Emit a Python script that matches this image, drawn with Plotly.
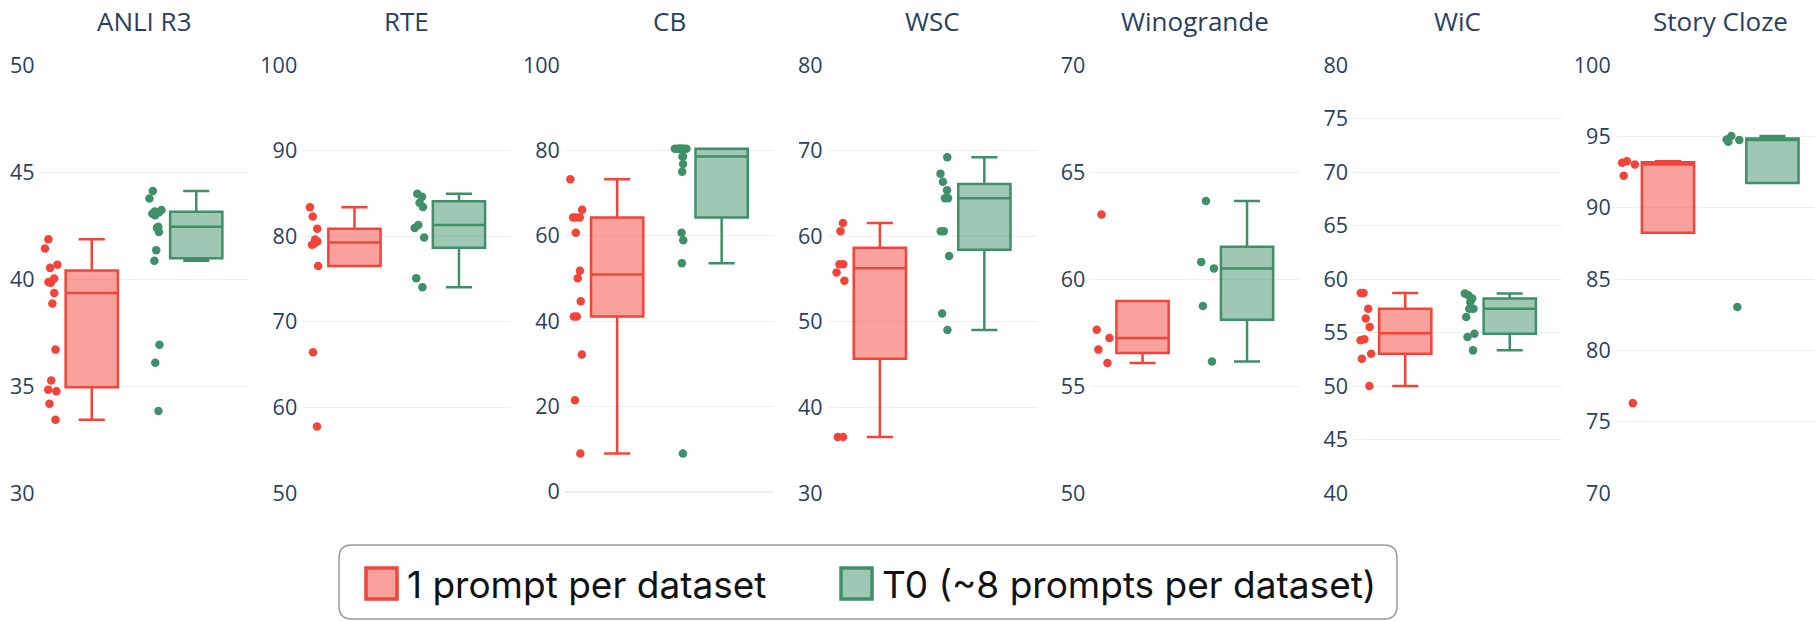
import plotly.graph_objects as go

# ---- data: per-prompt accuracy (%) for each held-out dataset ----
datasets = ["ANLI R3", "RTE", "CB", "WSC", "Winogrande", "WiC", "Story Cloze"]
series_names = ["1 prompt per dataset", "T0 (~8 prompts per dataset)"]

anli_r3_one = [41.86, 41.42, 40.67, 40.52, 40.02, 39.86, 39.82, 39.35, 38.85,
               36.70, 35.26, 34.83, 34.75, 34.17, 33.42]
anli_r3_t0 = [44.11, 43.76, 43.22, 43.15, 43.12, 43.05, 42.98, 42.44, 42.40,
              42.20, 41.34, 40.85, 36.93, 36.09, 33.83]

rte_one = [83.39, 82.31, 80.87, 79.61, 79.38, 79.14, 79.00, 76.53, 66.43, 57.76]
rte_t0 = [84.95, 84.60, 83.90, 83.40, 81.30, 80.95, 79.85, 75.10, 74.05]

cb_one = [73.21, 66.07, 64.29, 64.29, 64.29, 60.71, 51.79, 50.00, 44.64,
          41.07, 41.07, 32.14, 21.43, 8.93]
cb_t0 = [80.36, 80.36, 80.36, 80.36, 80.36, 80.36, 80.36, 78.57, 78.57,
         76.79, 75.00, 60.71, 58.93, 53.57, 8.93]

wsc_one = [61.54, 60.58, 56.73, 56.73, 55.77, 54.81, 36.54, 36.54]
wsc_t0 = [69.23, 67.31, 66.35, 65.38, 64.42, 64.42, 60.58, 60.58, 57.69,
          50.96, 49.04]

winogrande_one = [63.01, 57.63, 57.24, 56.70, 56.07]
winogrande_t0 = [63.64, 60.80, 60.49, 58.74, 56.15]

wic_one = [58.70, 58.70, 57.23, 56.30, 55.52, 54.36, 54.27, 53.02, 52.55, 50.00]
wic_t0 = [58.64, 58.48, 58.17, 57.86, 57.23, 57.23, 56.45, 54.89, 54.58, 53.33]

story_cloze_one = [93.26, 93.15, 93.03, 92.23, 76.30]
story_cloze_t0 = [95.02, 94.78, 94.74, 94.62, 83.04]

one_prompt_scores = [anli_r3_one, rte_one, cb_one, wsc_one,
                     winogrande_one, wic_one, story_cloze_one]
t0_scores = [anli_r3_t0, rte_t0, cb_t0, wsc_t0,
             winogrande_t0, wic_t0, story_cloze_t0]

# ---- axis settings ----
y_ranges = [[30, 50], [50, 100], [-0.3, 100], [30, 80], [50, 70], [40, 80], [70, 100]]
y_dticks = [5, 10, 20, 10, 5, 5, 5]

colors = ["#F3443A", "#3F9069"]
fills = ["rgba(243,68,58,0.5)", "rgba(63,144,105,0.5)"]

W, H = 1815, 621
M_T, M_B = 65, 128
PLOT_H = H - M_T - M_B

PANEL_X0 = 39.5      # left edge of first panel (px)
PANEL_STEP = 262.7   # distance between panel starts (px)
PANEL_W = 209        # panel width (px)

FONT = "Open Sans"
TEXT_COLOR = "#2a3f5f"


def fx(px):
    return px / W


def fy(py):
    return (H - M_B - py) / PLOT_H


fig = go.Figure()
layout = {}
annotations = []

for i, name in enumerate(datasets):
    suffix = "" if i == 0 else str(i + 1)
    x0 = PANEL_X0 + PANEL_STEP * i
    x1 = min(x0 + PANEL_W, W)
    span = 2.0 * (x1 - x0) / PANEL_W

    layout["xaxis" + suffix] = dict(
        domain=[fx(x0), fx(x1)], range=[-0.5, -0.5 + span],
        anchor="y" + suffix, showticklabels=False, showgrid=False,
        zeroline=False, showline=False, fixedrange=True,
    )
    layout["yaxis" + suffix] = dict(
        domain=[0, 1], range=y_ranges[i], dtick=y_dticks[i], tick0=0,
        anchor="x" + suffix, showgrid=True, gridcolor="#EBF0F8", gridwidth=1,
        zeroline=True, zerolinecolor="#EBF0F8", zerolinewidth=2,
        ticks="", showline=False, ticklabelstandoff=4,
        tickfont=dict(family=FONT, size=21.5, color=TEXT_COLOR),
    )

    for k, scores in enumerate([one_prompt_scores[i], t0_scores[i]]):
        fig.add_trace(go.Box(
            y=scores, x0=k, name=series_names[k],
            boxpoints="all", jitter=0.3, pointpos=-1.5, width=0.5,
            marker=dict(color=colors[k], size=8.5),
            line=dict(color=colors[k], width=2.5),
            fillcolor=fills[k],
            xaxis="x" + suffix, yaxis="y" + suffix,
            showlegend=False, hoverinfo="y",
        ))

    annotations.append(dict(
        text=name, x=fx(x0 + PANEL_W / 2), y=1, xref="paper", yref="paper",
        xanchor="center", yanchor="bottom", yshift=24, showarrow=False,
        font=dict(family=FONT, size=26, color=TEXT_COLOR),
    ))

# ---- legend drawn as a framed strip below the panels ----
def rounded_rect(x0, y0, x1, y1, r):
    rx0, rx1 = fx(x0), fx(x1)
    ry0, ry1 = fy(y0), fy(y1)
    return (
        f"M {fx(x0 + r)},{ry0} L {fx(x1 - r)},{ry0} "
        f"Q {rx1},{ry0} {rx1},{fy(y0 + r)} L {rx1},{fy(y1 - r)} "
        f"Q {rx1},{ry1} {fx(x1 - r)},{ry1} L {fx(x0 + r)},{ry1} "
        f"Q {rx0},{ry1} {rx0},{fy(y1 - r)} L {rx0},{fy(y0 + r)} "
        f"Q {rx0},{ry0} {fx(x0 + r)},{ry0} Z"
    )


shapes = [dict(
    type="path", xref="paper", yref="paper",
    path=rounded_rect(339, 545, 1397, 619, 13),
    line=dict(color="#9a9a9a", width=1.5), fillcolor="rgba(0,0,0,0)",
)]

legend_items = [(366, 405), (841, 880)]
for k, (sx, tx) in enumerate(legend_items):
    shapes.append(dict(
        type="rect", xref="paper", yref="paper",
        x0=fx(sx), x1=fx(sx + 31), y0=fy(568), y1=fy(599),
        line=dict(color=colors[k], width=3.5), fillcolor=fills[k],
    ))
    annotations.append(dict(
        text=series_names[k], x=fx(tx), y=fy(584), xref="paper", yref="paper",
        xanchor="left", yanchor="middle", showarrow=False,
        font=dict(family="Inter", size=37, color="#111111"),
    ))

fig.update_layout(
    **layout,
    width=W, height=H,
    margin=dict(l=0, r=0, t=M_T, b=M_B, pad=0),
    paper_bgcolor="white", plot_bgcolor="white",
    boxmode="overlay", showlegend=False,
    annotations=annotations, shapes=shapes,
    font=dict(family=FONT, color=TEXT_COLOR),
)

fig.write_html("out.html")
